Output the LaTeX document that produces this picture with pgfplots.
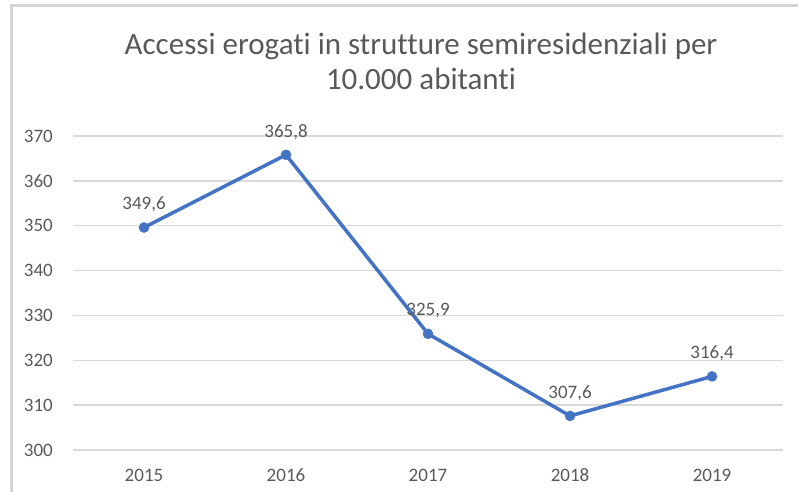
\documentclass[border=0pt]{standalone}
\usepackage{pgfplots}
\pgfplotsset{compat=1.18}
\usepackage{fontspec}
\setmainfont{Carlito}[Ligatures=NoCommon]
\definecolor{txt}{HTML}{595959}
\definecolor{grd}{HTML}{D9D9D9}
\definecolor{ln}{HTML}{4472C4}
\definecolor{frm}{HTML}{D4D4D4}
\begin{document}
\begin{tikzpicture}[x=1bp,y=1bp]
\useasboundingbox (0,0) rectangle (798,492);
\begin{scope}
\clip (0,0) rectangle (798,492);
\draw[frm, line width=3bp] (11,-20) -- (11,486) -- (830,486);
\end{scope}
\node[txt, align=center, font=\fontsize{31bp}{35bp}\selectfont, inner sep=0] at (421,431) {Accessi erogati in strutture semiresidenziali per\\10.000 abitanti};
\begin{axis}[
  at={(73bp,42bp)}, anchor=south west,
  scale only axis, width=710bp, height=314bp,
  xmin=-0.5, xmax=4.5, ymin=300, ymax=370,
  xtick={0,1,2,3,4}, xticklabels={2015,2016,2017,2018,2019},
  ytick={300,310,...,370},
  axis line style={draw=none}, major tick style={draw=none},
  ymajorgrids, grid style={grd, line width=1.5bp},
  /pgf/number format/assume math mode=true,
  ticklabel style={font=\fontsize{19bp}{22bp}\selectfont, text=txt, inner sep=0pt},
  yticklabel style={anchor=east, xshift=-20bp},
  xticklabel style={anchor=center, yshift=-25bp},
  clip=false,
  nodes near coords,
  nodes near coords style={font=\fontsize{19bp}{22bp}\selectfont, text=txt, anchor=center, yshift=23bp, inner sep=0pt,
    /pgf/number format/.cd, use comma, fixed, fixed zerofill, precision=1, assume math mode=true},
]
\addplot[color=ln, line width=3.5bp, mark=*, mark size=5bp, mark options={fill=ln, draw=ln, line width=0.5bp}]
  coordinates {(0,349.6) (1,365.8) (2,325.9) (3,307.6) (4,316.4)};
\end{axis}
\end{tikzpicture}
\end{document}
